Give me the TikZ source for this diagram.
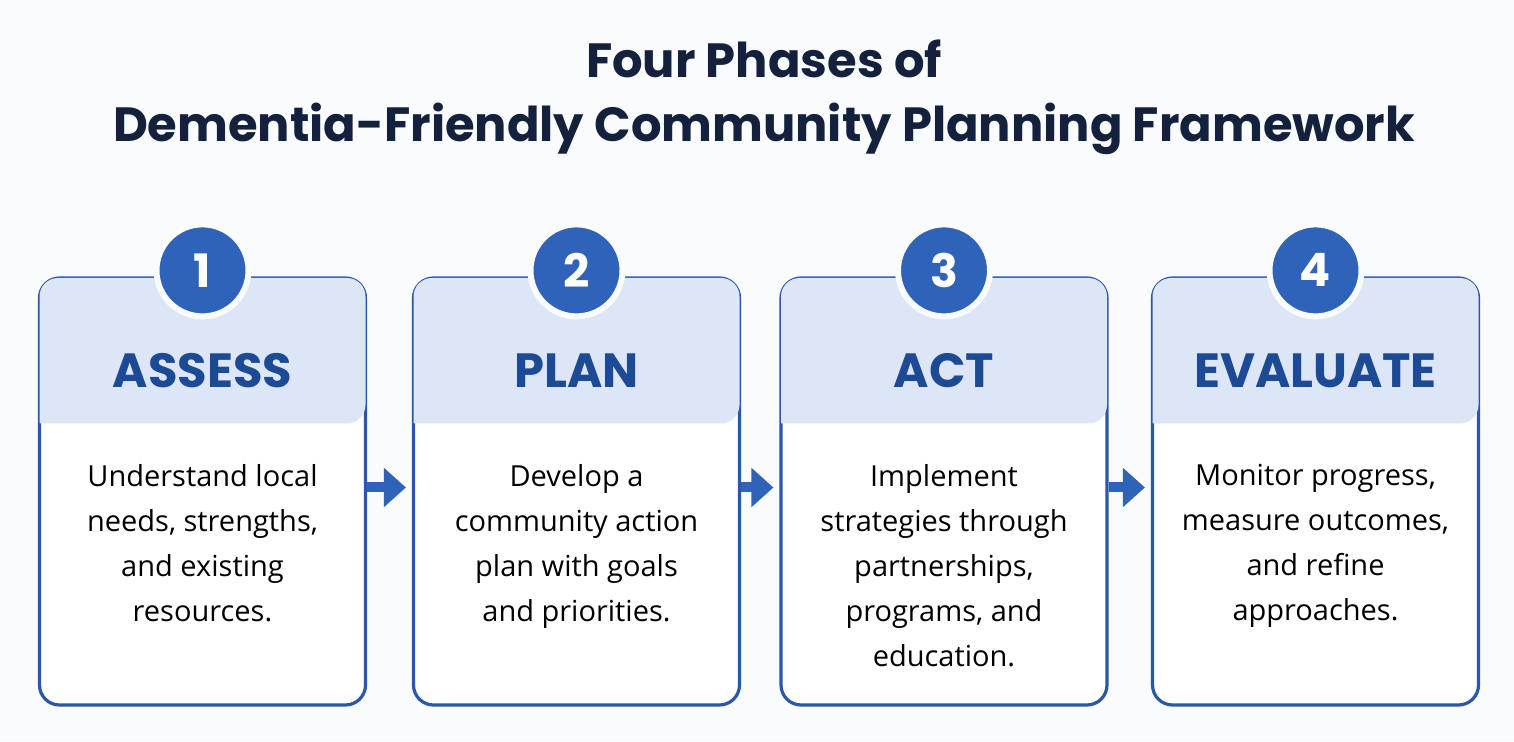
\documentclass[tikz,border=0pt]{standalone}
\usepackage{fontspec}
\setmainfont{Open Sans}
\newfontfamily\headfont{Poppins}
\usetikzlibrary{positioning,arrows.meta,calc}

\definecolor{navy}{HTML}{14213D}
\definecolor{cardblue}{HTML}{2A57A8}
\definecolor{headfill}{HTML}{DCE6F6}
\definecolor{headtext}{HTML}{1D4A94}
\definecolor{dotblue}{HTML}{2F62B9}
\definecolor{paper}{HTML}{FAFBFC}

\begin{document}
\begin{tikzpicture}[x=1pt,y=1pt]
  \tikzstyle{card}=[rectangle,draw=cardblue,line width=3.2pt,fill=white,rounded corners=20pt,minimum width=326pt,minimum height=427pt,inner sep=0pt]
  \tikzstyle{phase}=[circle,fill=dotblue,draw=paper,line width=6pt,minimum size=92pt,inner sep=0pt,text=white,font=\headfont\bfseries\fontsize{46}{46}\selectfont]
  \tikzstyle{label}=[text=headtext,font=\headfont\bfseries\fontsize{48}{48}\selectfont]
  \tikzstyle{body}=[anchor=north,align=center,text=black,font=\fontsize{29}{45}\selectfont,inner sep=0pt]
  \tikzstyle{flow}=[draw=dotblue,line width=10pt,-{Triangle[length=22pt,width=38pt]}]

  \fill[paper] (0,0) rectangle (1514,741);
  \useasboundingbox (0,0) rectangle (1514,741);

  \node[text=navy,align=center,font=\headfont\bfseries\fontsize{48}{64}\selectfont] (title) at (764,644)
    {Four Phases of\\Dementia-Friendly Community Planning Framework};

  \node[card] (card1) at (202.5,249.5) {};
  \node[card] (card2) at (576.5,249.5) {};
  \node[card] (card3) at (944,249.5) {};
  \node[card] (card4) at (1315.5,249.5) {};

  % header bands
  \fill[headfill,rounded corners=18.5pt] ([shift={(1.6,-147)}]card1.north west) -- ([shift={(1.6,-1.6)}]card1.north west) -- ([shift={(-1.6,-1.6)}]card1.north east) -- ([shift={(-1.6,-147)}]card1.north east) [sharp corners] -- cycle;
  \fill[headfill,rounded corners=18.5pt] ([shift={(1.6,-147)}]card2.north west) -- ([shift={(1.6,-1.6)}]card2.north west) -- ([shift={(-1.6,-1.6)}]card2.north east) -- ([shift={(-1.6,-147)}]card2.north east) [sharp corners] -- cycle;
  \fill[headfill,rounded corners=18.5pt] ([shift={(1.6,-147)}]card3.north west) -- ([shift={(1.6,-1.6)}]card3.north west) -- ([shift={(-1.6,-1.6)}]card3.north east) -- ([shift={(-1.6,-147)}]card3.north east) [sharp corners] -- cycle;
  \fill[headfill,rounded corners=18.5pt] ([shift={(1.6,-147)}]card4.north west) -- ([shift={(1.6,-1.6)}]card4.north west) -- ([shift={(-1.6,-1.6)}]card4.north east) -- ([shift={(-1.6,-147)}]card4.north east) [sharp corners] -- cycle;

  \node[phase] (n1) at ([yshift=6]card1.north) {1};
  \node[phase] (n2) at ([yshift=6]card2.north) {2};
  \node[phase] (n3) at ([yshift=6]card3.north) {3};
  \node[phase] (n4) at ([yshift=6]card4.north) {4};

  \node[label] (assess) at ([yshift=-94]card1.north) {ASSESS};
  \node[label] (plan) at ([yshift=-94]card2.north) {PLAN};
  \node[label] (act) at ([yshift=-94]card3.north) {ACT};
  \node[label] (evaluate) at ([yshift=-94]card4.north) {EVALUATE};

  \node[body] (t1) at ([yshift=-188]card1.north) {Understand local\\needs, strengths,\\and existing\\resources.};
  \node[body] (t2) at ([yshift=-188]card2.north) {Develop a\\community action\\plan with goals\\and priorities.};
  \node[body] (t3) at ([yshift=-188]card3.north) {Implement\\strategies through\\partnerships,\\programs, and\\education.};
  \node[body] (t4) at ([yshift=-188]card4.north) {Monitor progress,\\measure outcomes,\\and refine\\approaches.};

  \draw[flow] ([yshift=4]card1.east) -- ([shift={(-6,4)}]card2.west);
  \draw[flow] ([yshift=4]card2.east) -- ([shift={(-6,4)}]card3.west);
  \draw[flow] ([yshift=4]card3.east) -- ([shift={(-6,4)}]card4.west);
\end{tikzpicture}
\end{document}
